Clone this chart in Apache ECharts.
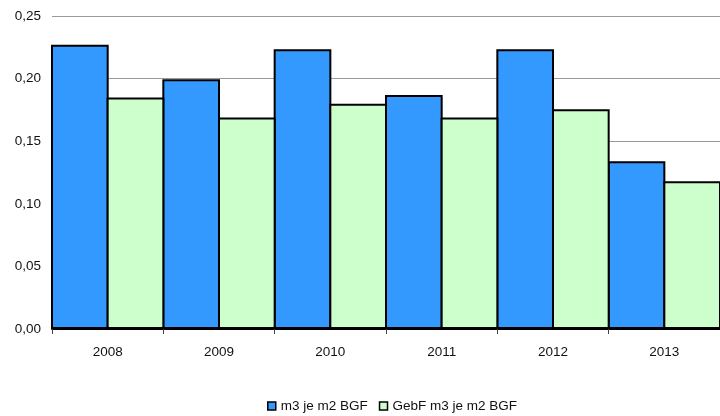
<!DOCTYPE html>
<html>
<head>
<meta charset="utf-8">
<script src="https://cdn.jsdelivr.net/npm/echarts@6/dist/echarts.min.js"></script>
<style>
  html, body { margin: 0; padding: 0; background: #fff; }
  #chart { width: 720px; height: 416px; }
</style>
</head>
<body>
<div id="chart"></div>
<script>
const years = ['2008', '2009', '2010', '2011', '2012', '2013']
const m3JeM2 = [0.227, 0.1995, 0.2235, 0.187, 0.2235, 0.134]
const gebfM3JeM2 = [0.185, 0.169, 0.180, 0.169, 0.1755, 0.118]

const chart = echarts.init(document.getElementById('chart'))

// bars share their borders, so they overlap by the border width
const option = {
  animation: false,
  textStyle: { fontFamily: 'Liberation Sans, Arial, sans-serif' },
  grid: { left: 52, right: -2, top: 16, bottom: 87 },
  legend: {
    left: 262,
    top: 394,
    itemWidth: 8,
    itemHeight: 8,
    itemGap: 11,
    textStyle: { fontSize: 13.5, color: '#111' },
    data: [
      { name: 'm3 je m2 BGF', icon: 'rect', itemStyle: { borderColor: '#000', borderWidth: 1.5 } },
      { name: 'GebF m3 je m2 BGF', icon: 'rect', itemStyle: { borderColor: '#000', borderWidth: 1.5 } }
    ]
  },
  xAxis: {
    type: 'category',
    data: years,
    z: 5,
    axisLine: { lineStyle: { color: '#000', width: 2 } },
    axisTick: { show: true, length: 5, lineStyle: { color: '#444' } },
    axisLabel: { margin: 16, fontSize: 13.5, color: '#111' }
  },
  yAxis: {
    type: 'value',
    min: 0,
    max: 0.25,
    interval: 0.05,
    axisLine: { show: false },
    axisTick: { show: false },
    splitLine: { lineStyle: { color: '#9a9a9a', width: 1 } },
    axisLabel: {
      margin: 11,
      fontSize: 13.5,
      color: '#111',
      formatter: v => v.toFixed(2).replace('.', ',')
    }
  },
  series: [
    {
      name: 'm3 je m2 BGF',
      type: 'bar',
      data: m3JeM2,
      barGap: '-3.5%',
      barCategoryGap: '-1.8%',
      itemStyle: { color: '#3399ff', borderColor: '#000', borderWidth: 2 }
    },
    {
      name: 'GebF m3 je m2 BGF',
      type: 'bar',
      data: gebfM3JeM2,
      itemStyle: { color: '#ccffcc', borderColor: '#000', borderWidth: 2 }
    }
  ]
}

chart.setOption(option)
</script>
</body>
</html>
